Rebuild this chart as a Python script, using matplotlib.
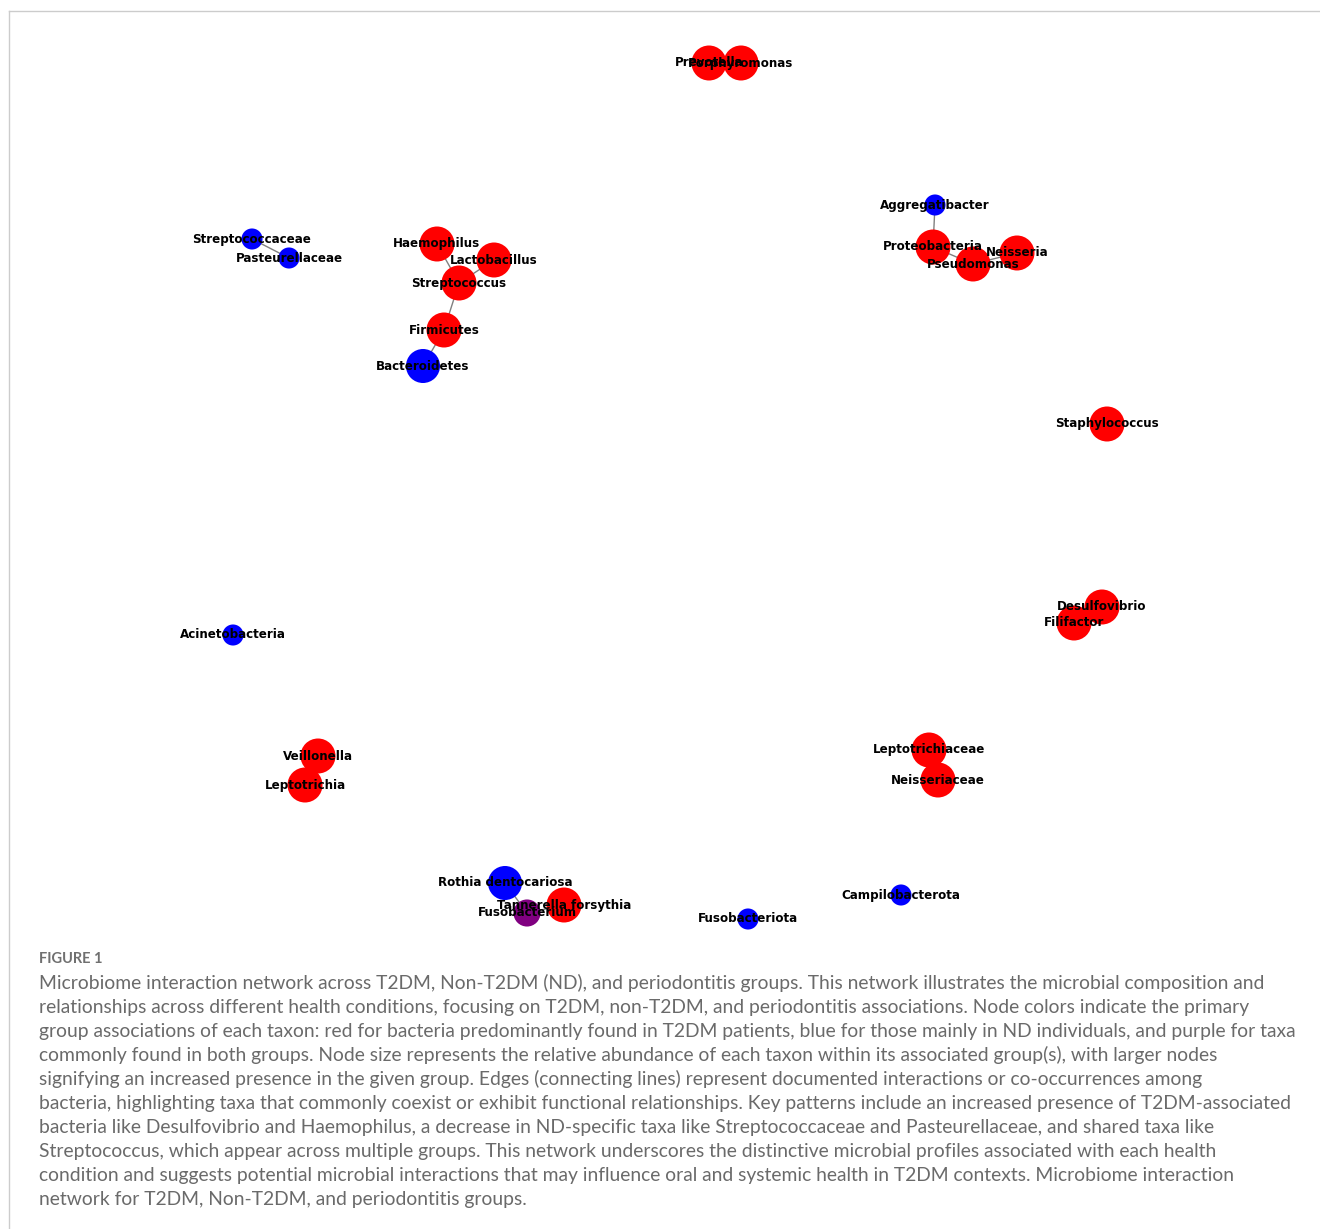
import matplotlib
matplotlib.use("Agg")
import matplotlib.pyplot as plt
from matplotlib.lines import Line2D

# ノード（名前, x, y, グループ, 大きさ）
names = [
    "Prevotella", "Porphyromonas",
    "Aggregatibacter", "Proteobacteria", "Pseudomonas", "Neisseria",
    "Streptococcaceae", "Pasteurellaceae",
    "Haemophilus", "Lactobacillus", "Streptococcus", "Firmicutes", "Bacteroidetes",
    "Staphylococcus",
    "Desulfovibrio", "Filifactor",
    "Acinetobacteria",
    "Veillonella", "Leptotrichia",
    "Leptotrichiaceae", "Neisseriaceae",
    "Rothia dentocariosa", "Tannerella forsythia", "Fusobacterium",
    "Fusobacteriota", "Campilobacterota",
]
pos_x = [709, 741, 935, 933, 973, 1017, 252, 289, 437, 494, 459, 444, 423,
         1107, 1102, 1074, 233, 318, 305, 929, 938, 505, 564, 527, 748, 901]
pos_y = [63, 63, 205, 247, 264, 253, 239, 258, 244, 260, 283, 330, 366,
         424, 607, 623, 635, 756, 785, 750, 780, 883, 905, 913, 919, 895]
groups = ["T2DM", "T2DM", "ND", "T2DM", "T2DM", "T2DM", "ND", "ND",
          "T2DM", "T2DM", "T2DM", "T2DM", "ND", "T2DM", "T2DM", "T2DM",
          "ND", "T2DM", "T2DM", "T2DM", "T2DM", "ND", "T2DM", "Both",
          "ND", "ND"]
sizes = [635, 635, 230, 635, 635, 635, 230, 230, 635, 635, 635, 635, 600,
         635, 635, 635, 230, 635, 635, 635, 635, 600, 635, 380, 230, 230]

edges = [
    ("Prevotella", "Porphyromonas"),
    ("Aggregatibacter", "Proteobacteria"),
    ("Proteobacteria", "Pseudomonas"),
    ("Pseudomonas", "Neisseria"),
    ("Streptococcaceae", "Pasteurellaceae"),
    ("Haemophilus", "Streptococcus"),
    ("Lactobacillus", "Streptococcus"),
    ("Streptococcus", "Firmicutes"),
    ("Firmicutes", "Bacteroidetes"),
    ("Desulfovibrio", "Filifactor"),
    ("Veillonella", "Leptotrichia"),
    ("Leptotrichiaceae", "Neisseriaceae"),
    ("Rothia dentocariosa", "Fusobacterium"),
    ("Fusobacterium", "Tannerella forsythia"),
]

group_colors = {"T2DM": "red", "ND": "blue", "Both": "purple"}

caption_title = "FIGURE 1"
caption_lines = [
    "Microbiome interaction network across T2DM, Non-T2DM (ND), and periodontitis groups. This network illustrates the microbial composition and",
    "relationships across different health conditions, focusing on T2DM, non-T2DM, and periodontitis associations. Node colors indicate the primary",
    "group associations of each taxon: red for bacteria predominantly found in T2DM patients, blue for those mainly in ND individuals, and purple for taxa",
    "commonly found in both groups. Node size represents the relative abundance of each taxon within its associated group(s), with larger nodes",
    "signifying an increased presence in the given group. Edges (connecting lines) represent documented interactions or co-occurrences among",
    "bacteria, highlighting taxa that commonly coexist or exhibit functional relationships. Key patterns include an increased presence of T2DM-associated",
    "bacteria like Desulfovibrio and Haemophilus, a decrease in ND-specific taxa like Streptococcaceae and Pasteurellaceae, and shared taxa like",
    "Streptococcus, which appear across multiple groups. This network underscores the distinctive microbial profiles associated with each health",
    "condition and suggests potential microbial interactions that may influence oral and systemic health in T2DM contexts. Microbiome interaction",
    "network for T2DM, Non-T2DM, and periodontitis groups.",
]

W, H = 1320, 1229
fig = plt.figure(figsize=(W / 100, H / 100), dpi=100)
ax = fig.add_axes([0, 0, 1, 1])
ax.set_xlim(0, W)
ax.set_ylim(H, 0)
ax.axis("off")

# 枠線
fig.add_artist(Line2D([9 / W, 1], [1 - 11 / H, 1 - 11 / H], color="#cccccc", lw=1.0))
fig.add_artist(Line2D([9 / W, 9 / W], [1 - 11 / H, 0], color="#cccccc", lw=1.0))

idx = {n: i for i, n in enumerate(names)}

# エッジ
for a, b in edges:
    i, j = idx[a], idx[b]
    ax.plot([pos_x[i], pos_x[j]], [pos_y[i], pos_y[j]], color="gray", lw=1.0, zorder=1)

# ノード
ax.scatter(pos_x, pos_y, s=sizes, c=[group_colors[g] for g in groups],
           linewidths=0, zorder=2)

# ラベル
for n, x, y in zip(names, pos_x, pos_y):
    ax.text(x, y, n, ha="center", va="center", fontsize=8.6, fontweight="bold",
            family="DejaVu Sans", color="black", zorder=3)

# キャプション
ax.text(39, 959, caption_title, ha="left", va="center", fontsize=10.5,
        fontweight="bold", family="Lato", color="#707070")
for k, line in enumerate(caption_lines):
    ax.text(39, 983 + 24 * k, line, ha="left", va="center", fontsize=13.9,
            family="Lato", color="#6a6a6a")

fig.savefig("out.png", dpi=100)
plt.close("all")
